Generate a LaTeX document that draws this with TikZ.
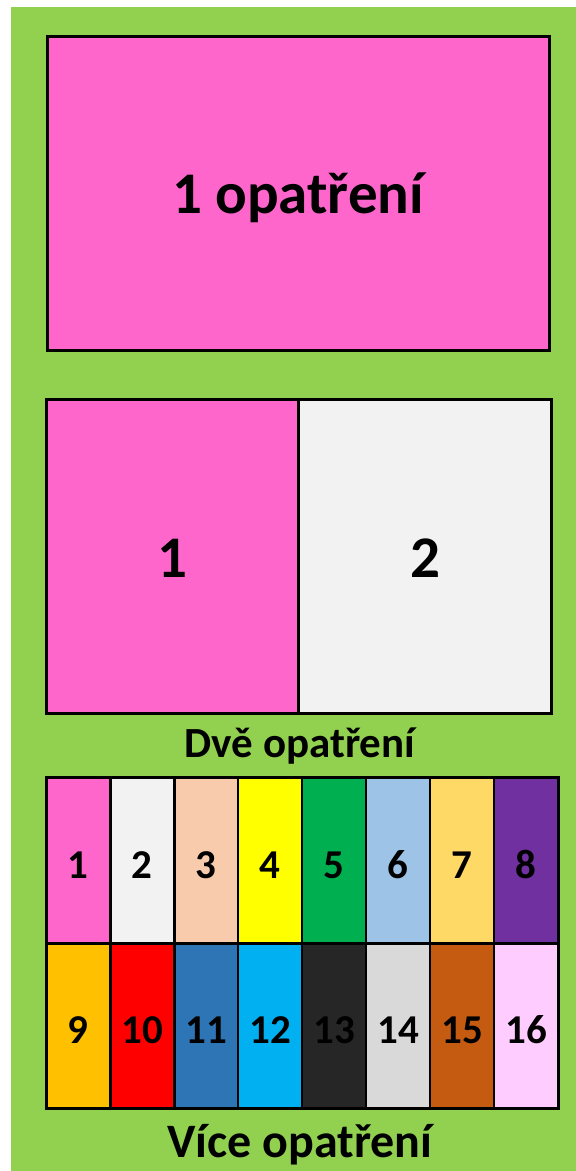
\documentclass[tikz,border=0pt]{standalone}
\usepackage{fontspec}
\setmainfont{Carlito}
\usepackage{xcolor}
\usepackage{tikz}
\usetikzlibrary{positioning,fit,backgrounds}
\definecolor{bggreen}{HTML}{92D050}
\definecolor{boxpink}{HTML}{FF66CC}
\definecolor{boxgray}{HTML}{F2F2F2}
\definecolor{cpeach}{HTML}{F8CBAD}
\definecolor{cyellow}{HTML}{FFFF00}
\definecolor{cgreen}{HTML}{00B050}
\definecolor{cblue}{HTML}{9DC3E6}
\definecolor{clorange}{HTML}{FFD966}
\definecolor{cpurple}{HTML}{7030A0}
\definecolor{corange}{HTML}{FFC000}
\definecolor{cred}{HTML}{FF0000}
\definecolor{cdblue}{HTML}{2E75B6}
\definecolor{ccyan}{HTML}{00B0F0}
\definecolor{cdark}{HTML}{262626}
\definecolor{cgray}{HTML}{D9D9D9}
\definecolor{cbrown}{HTML}{C55A11}
\definecolor{clpink}{HTML}{FFCCFF}

\begin{document}
\begin{tikzpicture}[x=1pt,y=-1pt,
   big/.style={draw,line width=1.5pt,inner sep=0pt,minimum width=251pt,minimum height=313pt,
               text height=41pt,text depth=0pt,font=\fontsize{59}{60}\selectfont\bfseries},
   cell/.style={draw,line width=1.2pt,inner sep=0pt,minimum width=62.75pt,minimum height=165pt,
                text height=35pt,text depth=0pt,font=\fontsize{41}{42}\selectfont\bfseries},
   frame/.style={draw,line width=3pt,inner sep=0pt},
   caption/.style={inner sep=0pt,anchor=base,font=\bfseries}]
  \useasboundingbox (0,0) rectangle (576,1171);
  \fill[white] (0,0) rectangle (576,1171);
  \fill[bggreen] (11,7) rectangle (576,1171);

  % one measure
  \node[frame,fill=boxpink,minimum width=502pt,minimum height=314pt,text height=52pt,text depth=12pt,
        font=\fontsize{59}{60}\selectfont\bfseries] (one) at (298,193) {1 opatření};

  % two measures
  \node[big,fill=boxpink] (twoa) at (172.5,556.5) {1};
  \node[big,fill=boxgray,right=0pt of twoa] (twob) {2};
  \node[frame,fit=(twoa)(twob)] (two) {};
  \node[caption,font=\fontsize{43}{45}\selectfont\bfseries] (twolbl) at (300,757) {Dvě opatření};

  % more measures
  \node[cell,fill=boxpink] (c1) at (78.375,860.5) {1};
  \node[cell,fill=boxgray,right=0pt of c1] (c2) {2};
  \node[cell,fill=cpeach,right=0pt of c2] (c3) {3};
  \node[cell,fill=cyellow,right=0pt of c3] (c4) {4};
  \node[cell,fill=cgreen,right=0pt of c4] (c5) {5};
  \node[cell,fill=cblue,right=0pt of c5] (c6) {6};
  \node[cell,fill=clorange,right=0pt of c6] (c7) {7};
  \node[cell,fill=cpurple,right=0pt of c7] (c8) {8};
  \node[cell,fill=corange,below=0pt of c1,minimum height=164pt] (c9) {9};
  \node[cell,fill=cred,right=0pt of c9,minimum height=164pt] (c10) {10};
  \node[cell,fill=cdblue,right=0pt of c10,minimum height=164pt] (c11) {11};
  \node[cell,fill=ccyan,right=0pt of c11,minimum height=164pt] (c12) {12};
  \node[cell,fill=cdark,right=0pt of c12,minimum height=164pt] (c13) {13};
  \node[cell,fill=cgray,right=0pt of c13,minimum height=164pt] (c14) {14};
  \node[cell,fill=cbrown,right=0pt of c14,minimum height=164pt] (c15) {15};
  \node[cell,fill=clpink,right=0pt of c15,minimum height=164pt] (c16) {16};
  \node[frame,fit=(c1)(c16)] (grid) {};
  \node[caption,font=\fontsize{48}{50}\selectfont\bfseries] (morelbl) at (300,1157) {Více opatření};
\end{tikzpicture}
\end{document}
